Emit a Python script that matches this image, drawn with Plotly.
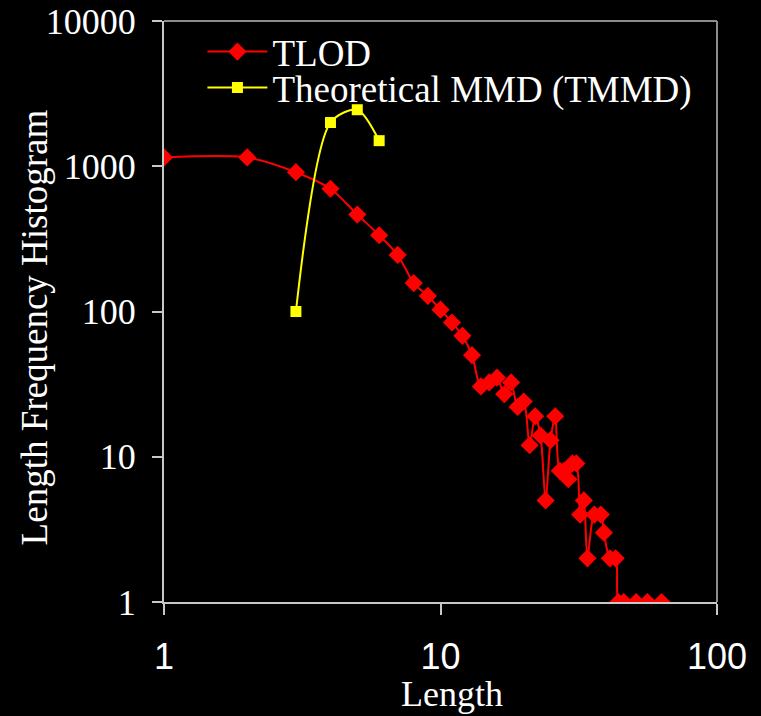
import plotly.graph_objects as go

# TLOD series
tlod_x = [1, 2, 3, 4, 5, 6, 7, 8, 9, 10, 11, 12, 13, 14, 15, 16, 17, 18, 19, 20,
          21, 22, 23, 24, 25, 26, 27, 28, 29, 30, 31, 32, 33, 34, 36, 38, 39, 41,
          43, 44, 46, 51, 56, 63]
tlod_y = [1150, 1150, 910, 700, 465, 335, 245, 157, 128, 103, 84, 68, 50, 30.5, 32.5,
          35, 27, 32.5, 22, 24, 12, 19, 14, 5, 13, 19, 8, 8, 7, 9, 9, 4, 5, 2, 4, 4,
          3, 2, 2, 1, 1, 1, 1, 1]

# Theoretical MMD series
tmmd_x = [3, 4, 5, 6]
tmmd_y = [100, 2000, 2450, 1500]

x_ticks = [1, 10, 100]
y_ticks = [1, 10, 100, 1000, 10000]

serif = "Liberation Serif, Times New Roman, serif"
sans = "Liberation Sans, Arial, sans-serif"

fig = go.Figure()
fig.add_trace(go.Scatter(
    x=tlod_x, y=tlod_y, name="TLOD", mode="lines+markers",
    line=dict(color="#ff0000", width=2, shape="spline", smoothing=0.8),
    marker=dict(symbol="diamond", size=14, color="#ff0000"),
    legend="legend",
))
fig.add_trace(go.Scatter(
    x=tmmd_x, y=tmmd_y, name="Theoretical MMD (TMMD)", mode="lines+markers",
    line=dict(color="#ffff00", width=2, shape="spline", smoothing=0.8),
    marker=dict(symbol="square", size=11, color="#ffff00"),
    legend="legend2",
))

legend_common = dict(
    xanchor="left", yanchor="middle",
    bgcolor="rgba(0,0,0,0)",
    font=dict(family=serif, size=37, color="white"),
    itemwidth=60,
)

fig.update_layout(
    width=761, height=716,
    paper_bgcolor="black", plot_bgcolor="black",
    margin=dict(l=164, r=44, t=21, b=114),
    showlegend=True,
    legend=dict(x=0.0695, y=0.9466, **legend_common),
    legend2=dict(x=0.0695, y=0.8846, **legend_common),
    xaxis=dict(
        type="log", range=[0, 2], automargin=False,
        tickvals=x_ticks, ticktext=[str(v) for v in x_ticks],
        showgrid=False, zeroline=False,
        showline=True, linecolor="#c8c8c8", linewidth=2,
        ticks="outside", ticklen=11, tickcolor="#c8c8c8", tickwidth=2,
        tickfont=dict(family=sans, size=36, color="white"),
        ticklabelstandoff=11,
    ),
    yaxis=dict(
        type="log", range=[0, 4], automargin=False,
        tickvals=y_ticks, ticktext=[str(v) for v in y_ticks],
        showgrid=False, zeroline=False,
        showline=True, linecolor="#c8c8c8", linewidth=2,
        ticks="outside", ticklen=10, tickcolor="#c8c8c8", tickwidth=2,
        tickfont=dict(family=serif, size=36, color="white"),
        ticklabelstandoff=9,
    ),
    shapes=[
        dict(type="line", xref="paper", yref="paper", x0=0, x1=1, y0=1, y1=1,
             line=dict(color="#8c8c8c", width=2)),
        dict(type="line", xref="paper", yref="paper", x0=1, x1=1, y0=0, y1=1,
             line=dict(color="#8c8c8c", width=2)),
    ],
    annotations=[
        dict(text="Length", xref="paper", yref="paper", x=0.5204, y=-0.159,
             xanchor="center", yanchor="middle", showarrow=False,
             font=dict(family=serif, size=36, color="white")),
        dict(text="Length Frequency Histogram", xref="paper", yref="paper",
             x=-0.2344, y=0.4733, xanchor="center", yanchor="middle",
             textangle=-90, showarrow=False,
             font=dict(family=serif, size=37, color="white")),
    ],
)

fig.write_html(
    "out.html",
    config={"displayModeBar": False},
    post_script="document.body.style.margin='0';document.body.style.background='black';",
)
